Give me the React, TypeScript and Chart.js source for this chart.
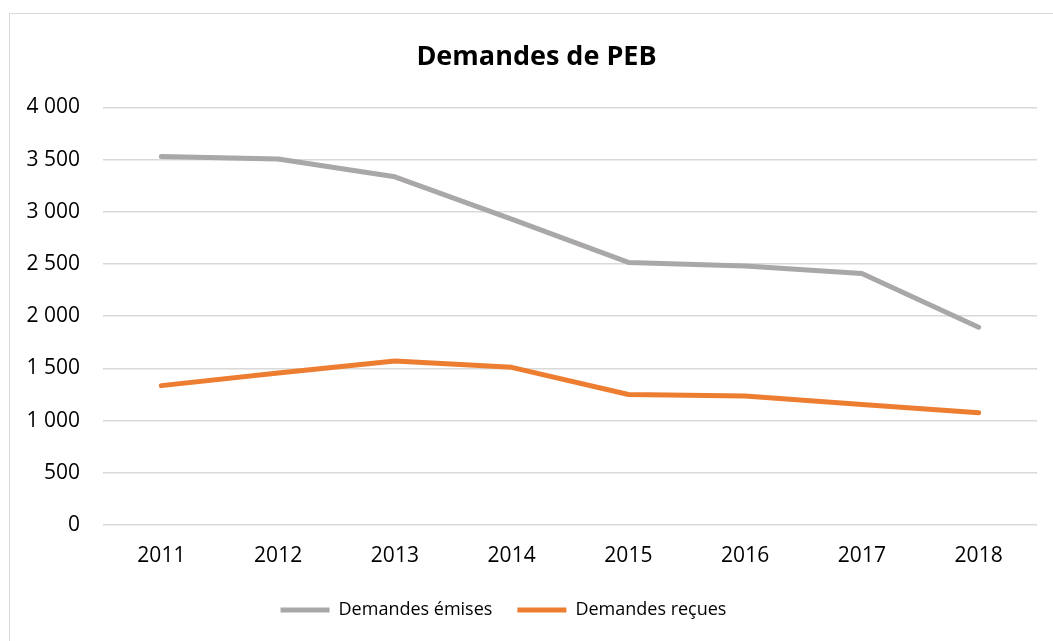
import React, { useEffect, useRef } from "react";
import { Chart, registerables } from "chart.js";

Chart.register(...registerables);

const years = ["2011", "2012", "2013", "2014", "2015", "2016", "2017", "2018"];
const demandesEmises = [3530, 3505, 3335, 2930, 2515, 2480, 2410, 1895];
const demandesRecues = [1335, 1455, 1570, 1510, 1250, 1235, 1155, 1075];
const yTicks = [0, 500, 1000, 1500, 2000, 2500, 3000, 3500, 4000];

const FONT = "'Open Sans', 'DejaVu Sans', sans-serif";

const fmt = (v: number) => String(v).replace(/\B(?=(\d{3})+(?!\d))/g, " ");

const shiftPlugin = {
  id: "shiftBoxes",
  afterLayout(chart: any) {
    const lg = chart.legend;
    if (lg) {
      lg.left -= 15;
      lg.right -= 15;
    }
    const tt = chart.titleBlock;
    if (tt) {
      tt.left += 18;
      tt.right += 18;
    }
  },
};

export default function App() {
  const ref = useRef<HTMLCanvasElement | null>(null);

  useEffect(() => {
    if (!ref.current) return;
    const chart = new Chart(ref.current, {
      type: "line",
      data: {
        labels: years,
        datasets: [
          {
            label: "Demandes émises",
            data: demandesEmises,
            borderColor: "#A9A7A7",
            backgroundColor: "#A9A7A7",
            borderWidth: 5,
            pointRadius: 0,
            borderCapStyle: "round",
            borderJoinStyle: "round",
            tension: 0,
          },
          {
            label: "Demandes reçues",
            data: demandesRecues,
            borderColor: "#ED7D31",
            backgroundColor: "#ED7D31",
            borderWidth: 5,
            pointRadius: 0,
            borderCapStyle: "round",
            borderJoinStyle: "round",
            tension: 0,
          },
        ],
      },
      options: {
        responsive: false,
        animation: false,
        layout: { padding: { left: 0, right: 16, top: 0, bottom: 12 } },
        plugins: {
          title: {
            display: true,
            text: "Demandes de PEB",
            color: "#000",
            font: { family: FONT, size: 27, weight: "bold" },
            padding: { top: 41, bottom: 34 },
          },
          legend: {
            display: true,
            position: "bottom",
            labels: {
              color: "#000",
              font: { family: FONT, size: 18 },
              usePointStyle: true,
              pointStyle: "line",
              pointStyleWidth: 49,
              boxHeight: 6,
              padding: 25,
            },
          },
          tooltip: { enabled: false },
        },
        scales: {
          x: {
            offset: true,
            grid: { display: false, drawTicks: false },
            border: { display: false },
            ticks: {
              color: "#000",
              font: { family: FONT, size: 21 },
              padding: 18,
              maxRotation: 0,
            },
            afterFit: (s: any) => {
              s.height = 51;
            },
          },
          y: {
            min: 0,
            max: 4000,
            afterBuildTicks: (s: any) => {
              s.ticks = yTicks.map((v) => ({ value: v }));
            },
            grid: { color: "#D9D9D9", lineWidth: 1.5, drawTicks: false },
            border: { display: false },
            ticks: {
              color: "#000",
              font: { family: FONT, size: 21 },
              padding: 23,
              callback: (v: any) => fmt(Number(v)),
            },
            afterFit: (s: any) => {
              s.width = 103;
            },
          },
        },
      },
      plugins: [shiftPlugin],
    } as any);
    return () => chart.destroy();
  }, []);

  return (
    <div
      style={{
        position: "fixed",
        left: 0,
        top: 0,
        width: 1053,
        height: 641,
        overflow: "hidden",
        background: "#fff",
      }}
    >
      <div
        style={{
          position: "absolute",
          left: 9,
          top: 13,
          width: 1100,
          height: 700,
          border: "1.5px solid #D9D9D9",
          boxSizing: "border-box",
        }}
      />
      <canvas
        ref={ref}
        width={1053}
        height={641}
        style={{ position: "absolute", left: 0, top: 0, width: 1053, height: 641 }}
      />
    </div>
  );
}
